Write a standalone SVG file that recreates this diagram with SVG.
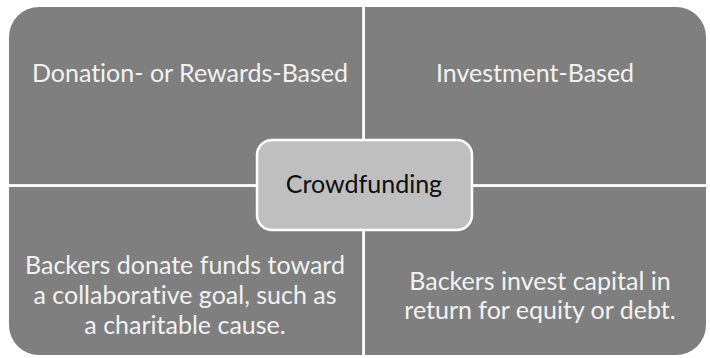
<svg xmlns="http://www.w3.org/2000/svg" width="710" height="358" viewBox="0 0 710 358">
<style>
.quad{fill:#7f7f7f;}
.lbl{font-family:Lato,"Open Sans","Liberation Sans",sans-serif;font-size:25px;fill:#f2f2f2;text-anchor:middle;font-variant-ligatures:none;}
.ctr{font-family:Lato,"Open Sans","Liberation Sans",sans-serif;font-size:25px;fill:#0d0d0d;text-anchor:middle;font-variant-ligatures:none;}
.div{stroke:#ffffff;stroke-width:2.5;fill:none;}
</style>
<rect width="710" height="358" fill="#ffffff"/>
<g id="quadrants">
<path id="q-tl" class="quad" d="M9,184.5 V37 A30,30 0 0 1 39,7 H362.5 V184.5 Z"/>
<path id="q-tr" class="quad" d="M364.8,7 H676 A30,30 0 0 1 706,37 V184.5 H364.8 Z"/>
<path id="q-bl" class="quad" d="M9,186.8 H362.5 V355 H39 A30,30 0 0 1 9,325 Z"/>
<path id="q-br" class="quad" d="M364.8,186.8 H706 V325 A30,30 0 0 1 676,355 H364.8 Z"/>
</g>
<g id="connectors">
<line class="div" x1="363.6" y1="7" x2="363.6" y2="355"/>
<line class="div" x1="9" y1="185.6" x2="706" y2="185.6"/>
</g>
<g id="node-tl">
<text class="lbl" x="190" y="82">Donation- or Rewards-Based</text>
</g>
<g id="node-tr">
<text class="lbl" x="535" y="82">Investment-Based</text>
</g>
<g id="node-bl">
<text class="lbl" x="185" y="274">Backers donate funds toward</text>
<text class="lbl" x="185" y="304">a collaborative goal, such as</text>
<text class="lbl" x="185" y="334">a charitable cause.</text>
</g>
<g id="node-br">
<text class="lbl" x="540" y="290">Backers invest capital in</text>
<text class="lbl" x="540" y="319">return for equity or debt.</text>
</g>
<g id="node-center">
<rect x="257" y="140" width="215" height="90" rx="15" ry="15" fill="#bfbfbf" stroke="#ffffff" stroke-width="2.5"/>
<text class="ctr" x="364" y="193">Crowdfunding</text>
</g>
</svg>
